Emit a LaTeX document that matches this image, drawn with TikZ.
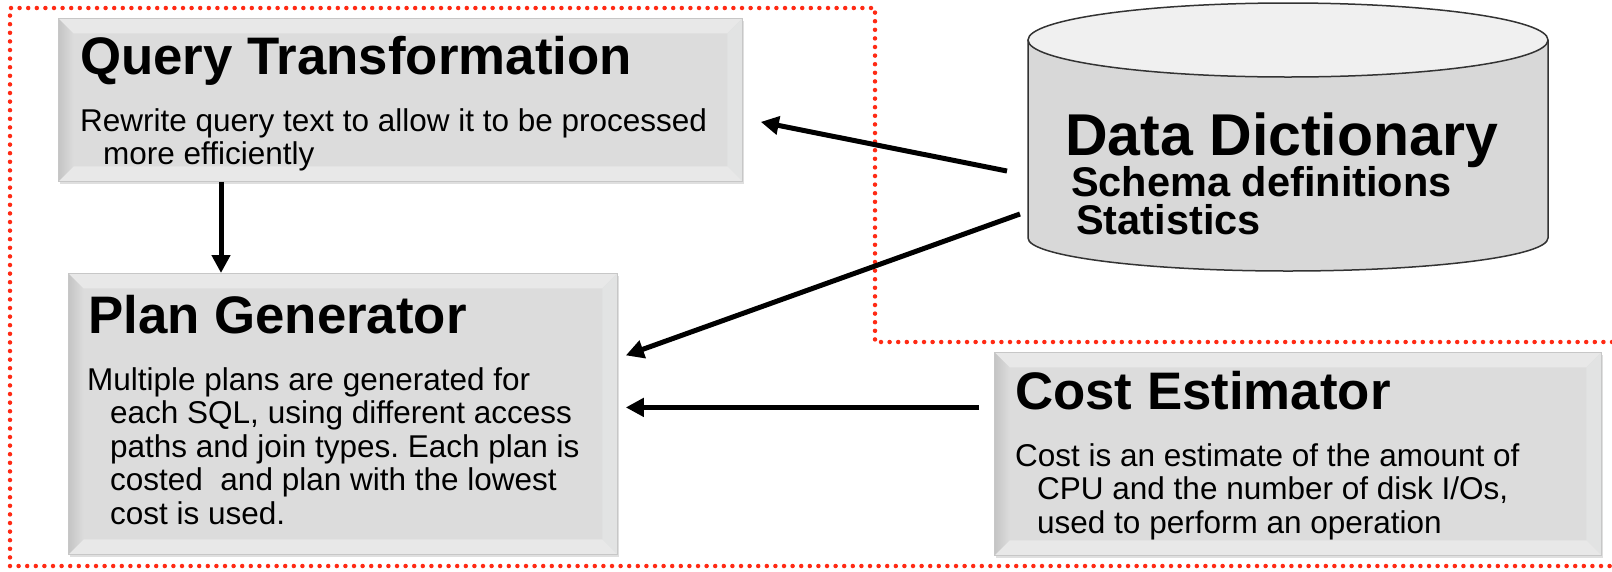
\documentclass[tikz,border=0pt]{standalone}
\usepackage{fontspec}
\setmainfont{Liberation Sans}
\usetikzlibrary{positioning,calc,arrows.meta,shadows}
\frenchspacing

\definecolor{boxface}{HTML}{DCDCDC}
\definecolor{bevlight}{HTML}{E8E8E8}
\definecolor{bevright}{HTML}{E2E3E3}
\definecolor{bevdark}{HTML}{C4C4C4}
\definecolor{cylbody}{HTML}{D8D8D8}
\definecolor{cyltop}{HTML}{F0F0F0}
\definecolor{zonered}{HTML}{FF2A14}

\tikzset{
    % gray panel with a bevelled rim
    bevelbox/.style={anchor=north west, inner sep=0pt, fill=boxface,
        draw=black!22, line width=0.8pt,
        drop shadow={shadow xshift=1.5pt, shadow yshift=-3pt, opacity=0.25},
        path picture={
            \coordinate (p1) at (path picture bounding box.north west);
            \coordinate (p2) at (path picture bounding box.north east);
            \coordinate (p3) at (path picture bounding box.south east);
            \coordinate (p4) at (path picture bounding box.south west);
            \fill[bevlight] (p1) -- (p2) -- ([xshift=-15pt,yshift=-15pt]p2) -- ([xshift=15pt,yshift=-15pt]p1) -- cycle;
            \fill[bevright] (p2) -- (p3) -- ([xshift=-15pt,yshift=15pt]p3) -- ([xshift=-15pt,yshift=-15pt]p2) -- cycle;
            \fill[bevlight] (p3) -- (p4) -- ([xshift=15pt,yshift=15pt]p4) -- ([xshift=-15pt,yshift=15pt]p3) -- cycle;
            \shade[left color=bevdark, right color=boxface] (p4) -- (p1) -- ([xshift=15pt,yshift=-15pt]p1) -- ([xshift=15pt,yshift=15pt]p4) -- cycle;
        }},
    ttl/.style={anchor=base west, inner sep=0pt, font=\bfseries\fontsize{52.8}{60}\selectfont},
    % multi-line text, placed by the baseline of its last line
    txt/.style={anchor=base west, inner sep=0pt, align=left, font=\fontsize{31.5}{33.5}\selectfont},
    flow/.style={line width=5pt, -{Triangle[length=18pt,width=18pt]}},
    zone/.style={draw=zonered, line width=4.5pt, line cap=round, dash pattern=on 0pt off 8.6pt},
}

\begin{document}
\begin{tikzpicture}[x=1pt, y=-1pt]
    \useasboundingbox (0,0) rectangle (1612,571);

    % optimizer area
    \draw[zone] (1612,342) -- (875,342) -- (875,8) -- (10,8) -- (10,566) -- (1612,566);

    \node[bevelbox, minimum width=684pt, minimum height=163pt] (qt) at (58,18) {};
    \node[ttl] (qtT) at ([xshift=22pt,yshift=-56pt]qt.north west) {Query Transformation};
    \node[txt] (qtB) at ([xshift=22pt,yshift=-146.5pt]qt.north west)
        {Rewrite query text to allow it to be processed\\\hspace*{23pt}more efficiently};

    \node[bevelbox, minimum width=549pt, minimum height=281pt] (pg) at (68,273) {};
    \node[ttl] (pgT) at ([xshift=20pt,yshift=-60pt]pg.north west) {Plan Generator};
    \node[txt] (pgB) at ([xshift=19pt,yshift=-251pt]pg.north west)
        {Multiple plans are generated for\\
         \hspace*{23pt}each SQL, using different access\\
         \hspace*{23pt}paths and join types. Each plan is\\
         \hspace*{23pt}costed\ \ and plan with the lowest\\
         \hspace*{23pt}cost is used.};

    \node[bevelbox, minimum width=607pt, minimum height=203pt] (ce) at (994,352) {};
    \node[ttl] (ceT) at ([xshift=21pt,yshift=-57pt]ce.north west) {Cost Estimator};
    \node[txt] (ceB) at ([xshift=21pt,yshift=-181pt]ce.north west)
        {Cost is an estimate of the amount of\\
         \hspace*{22pt}CPU and the number of disk I/Os,\\
         \hspace*{22pt}used to perform an operation};

    % data dictionary store
    \fill[cylbody] (1028,40) -- (1028,238) arc[start angle=180, end angle=0, x radius=260, y radius=33] -- (1548,40) -- cycle;
    \draw[black!80, line width=1.5pt] (1028,40) -- (1028,238) arc[start angle=180, end angle=0, x radius=260, y radius=33] -- (1548,40);
    \filldraw[fill=cyltop, draw=black!80, line width=1.5pt] (1288,40) ellipse[x radius=260, y radius=37];
    \node[ttl, font=\bfseries\fontsize{59}{60}\selectfont] (dd) at (1065,155) {Data Dictionary};
    \node[txt, font=\bfseries\fontsize{41.5}{38}\selectfont] (ddB) at (1071,234)
        {Schema definitions\\\hspace*{5pt}Statistics};

    \coordinate (ddA) at (1007,171);
    \coordinate (ddC) at (1020,214);

    \draw[flow] (ddA) -- ([xshift=18pt,yshift=-22pt]qt.east);
    \draw[flow] (ddC) -- ([xshift=8pt,yshift=58.5pt]pg.east);
    \draw[flow] ([xshift=-15pt,yshift=46.5pt]ce.west) -- ([xshift=8pt,yshift=6.5pt]pg.east);
    \draw[flow] ([xshift=163pt]qt.south west) -- ([xshift=153pt]pg.north west);
\end{tikzpicture}
\end{document}
